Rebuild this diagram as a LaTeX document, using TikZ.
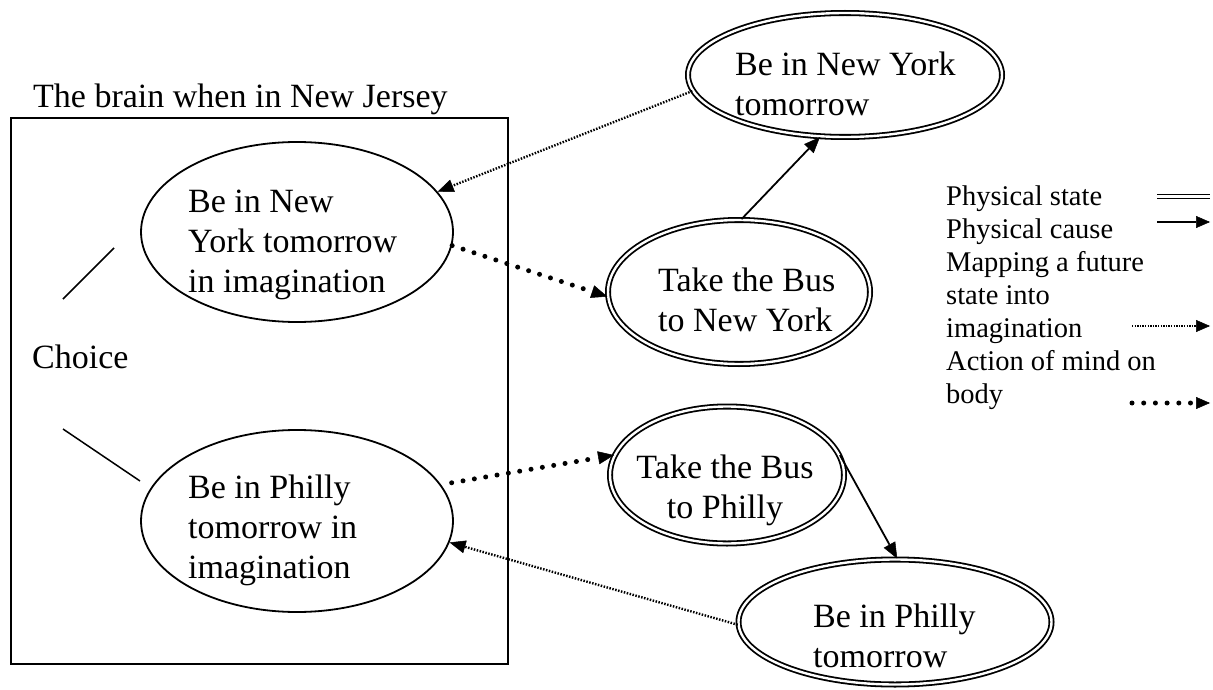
\documentclass[tikz,border=0pt]{standalone}
\usepackage{fontspec}
\setmainfont{Liberation Serif}
\usetikzlibrary{arrows.meta,shapes.geometric}
\begin{document}
\begin{tikzpicture}[x=1pt,y=-1pt,
  mainfont/.style={font=\fontsize{34}{40}\selectfont},
  legfont/.style={font=\fontsize{28.5}{33}\selectfont},
  imag/.style={draw, ellipse, line width=1.8pt, inner sep=0pt},
  phys/.style={draw, ellipse, double, double distance=2.4pt, line width=1.8pt, inner sep=0pt},
  lbl/.style={inner sep=0pt, align=left, mainfont},
  tip/.style={-{Triangle[length=16pt,width=13pt,line width=0.5pt]}},
  smalltip/.style={-{Triangle[length=14pt,width=12pt,line width=0.5pt]}},
  cause/.style={line width=1.8pt},
  mapping/.style={line width=2.4pt, dash pattern=on 1.5pt off 1.5pt},
  action/.style={line width=5pt, line cap=round, dash pattern=on 0pt off 11.5pt},
  plain/.style={line width=1.5pt}
]
\useasboundingbox (0,0) rectangle (1213,690);

% box and title
\node[draw, line width=1.8pt, inner sep=0pt, minimum width=497pt, minimum height=546pt, anchor=north west] (brain) at (10,117) {};
\node[lbl, anchor=base west] (title) at (33,108) {The brain when in New Jersey};

% imagination ellipses (base anchor = last line)
\node[imag, minimum width=312pt, minimum height=180pt] (nyI) at (297,232) {};
\node[lbl, anchor=base west] (nyItxt) at (188,292) {Be in New\\York tomorrow\\in imagination};
\node[imag, minimum width=312pt, minimum height=182pt] (phI) at (297,521) {};
\node[lbl, anchor=base west] (phItxt) at (188,578) {Be in Philly\\tomorrow in\\imagination};

% choice
\node[lbl, anchor=base west] (choice) at (32,368) {Choice};
\coordinate (c1a) at (63,299);
\coordinate (c1b) at (114,248);
\coordinate (c2a) at (63,429);
\coordinate (c2b) at (140,481);
\draw[plain] (c1a) -- (c1b);
\draw[plain] (c2a) -- (c2b);

% physical states
\node[phys, minimum width=314pt, minimum height=124pt] (nyT) at (845,75) {};
\node[lbl, anchor=base west] (nyTtxt) at (735,116) {Be in New York\\tomorrow};
\node[phys, minimum width=262pt, minimum height=144pt] (busNY) at (739,292) {};
\node[lbl, anchor=base west] (busNYtxt) at (658,331) {Take the Bus\\to New York};
\node[phys, minimum width=234pt, minimum height=137pt] (busPh) at (727,475) {};
\node[lbl, align=center, anchor=base] (busPhtxt) at (725,518) {Take the Bus\\to Philly};
\node[phys, minimum width=313pt, minimum height=125pt] (phT) at (895,622) {};
\node[lbl, anchor=base west] (phTtxt) at (813,667) {Be in Philly\\tomorrow};

% connectors
\draw[mapping, tip] (nyT.186) -- (nyI.16);
\draw[action, tip] (nyI.-5) -- (busNY.182);
\draw[cause, tip] (busNY.88) -- (nyT.248);
\draw[action, tip] ([xshift=12pt]phI.15) -- (busPh.170);
\draw[cause, tip] (busPh.10) -- (phT.88);
\draw[mapping, tip] (phT.181) -- (phI.-8);

% legend
\node[inner sep=0pt, align=left, legfont, anchor=base west] (legend) at (946,403)
  {Physical state\\Physical cause\\Mapping a future\\state into\\imagination\\Action of mind on\\body};
\coordinate (l1a) at (1157,196.5);
\coordinate (l1b) at (1210,196.5);
\coordinate (l2a) at (1157,222);
\coordinate (l2b) at (1210,222);
\coordinate (l3a) at (1132,326);
\coordinate (l3b) at (1210,326);
\coordinate (l4a) at (1132,403);
\coordinate (l4b) at (1210,403);
\draw[double, double distance=2.2pt, line width=1.5pt] (l1a) -- (l1b);
\draw[cause, smalltip] (l2a) -- (l2b);
\draw[line width=2pt, dash pattern=on 1.3pt off 1.3pt, smalltip] (l3a) -- (l3b);
\draw[line width=5pt, line cap=round, dash pattern=on 0pt off 11.7pt, smalltip] (l4a) -- (l4b);
\end{tikzpicture}
\end{document}
